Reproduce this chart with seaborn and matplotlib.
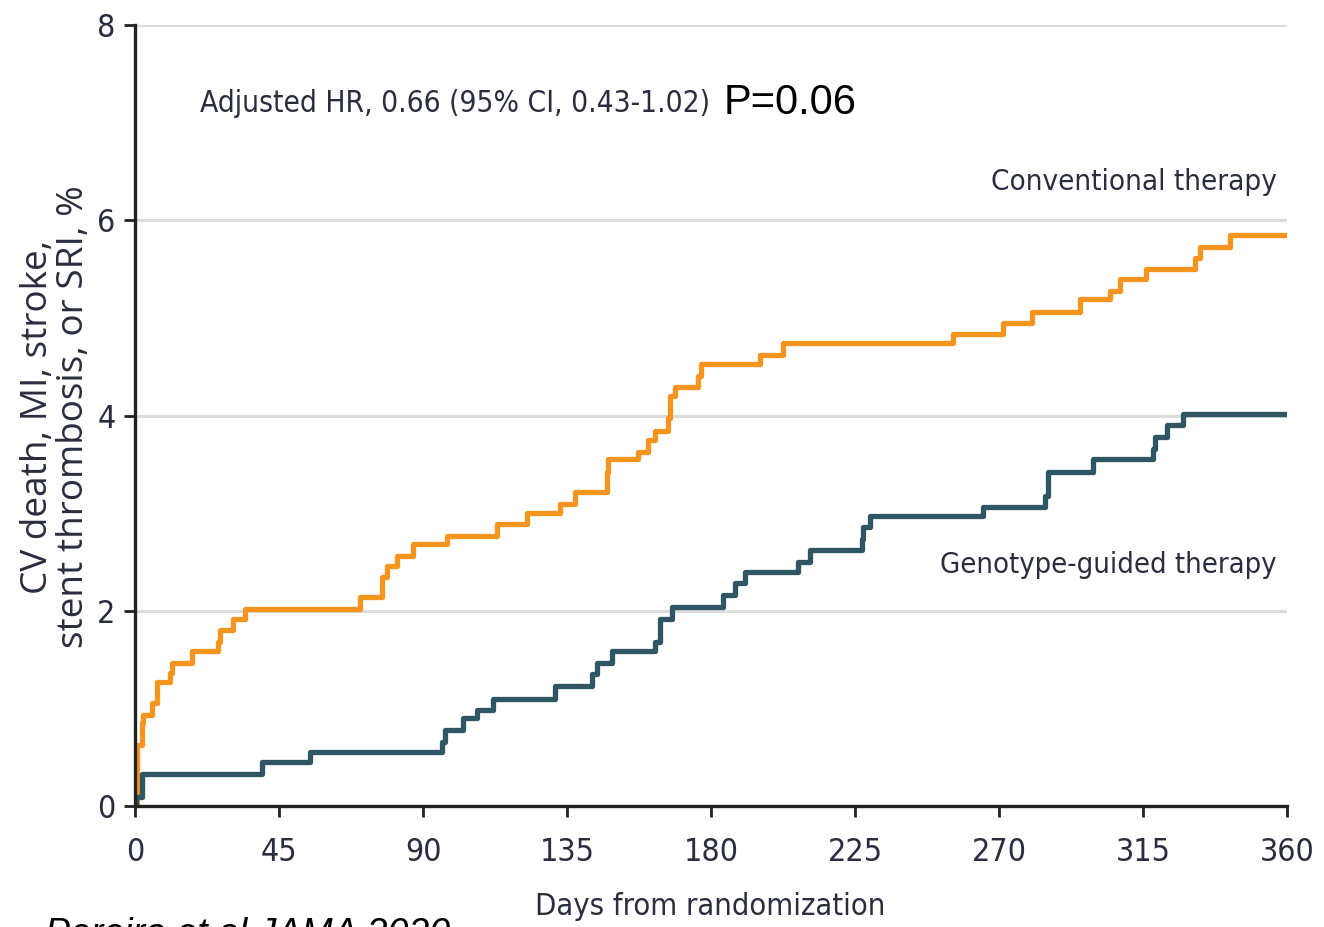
import matplotlib
matplotlib.use("Agg")
import matplotlib.pyplot as plt
import matplotlib.font_manager as fm
import pandas as pd
import seaborn as sns

# step curves: day of each event and cumulative % after it
conv_days = [0, 0.5, 2.1, 2.6, 5.2, 6.8, 10.9, 11.5, 17.7, 26, 26.6, 30.7, 34.4, 70.3, 77.1, 78.8,
             81.8, 87, 97.4, 113, 122.6, 132.8, 137.5, 147.4, 147.9, 157.3, 160.3, 162.5, 166.6,
             167.2, 168.8, 176, 177, 195.3, 202.6, 255.7, 271.3, 280.2, 295.3, 304.7, 307.8, 316.1,
             331.2, 332.8, 342.2, 360]
conv_vals = [0, 0.63, 0.85, 0.93, 1.06, 1.27, 1.36, 1.47, 1.59, 1.68, 1.80, 1.92, 2.02, 2.14, 2.35, 2.46,
             2.56, 2.68, 2.77, 2.89, 3.00, 3.09, 3.22, 3.42, 3.55, 3.63, 3.75, 3.84, 3.97,
             4.20, 4.29, 4.41, 4.53, 4.62, 4.74, 4.84, 4.95, 5.06, 5.19, 5.28, 5.40, 5.50,
             5.61, 5.73, 5.85, 5.85]

geno_days = [0, 0.3, 2.1, 39.6, 54.7, 95.8, 96.9, 102.6, 106.8, 112, 131.3, 142.7, 144.3, 149, 162.5,
             164, 167.7, 183.8, 187.5, 190.6, 207.3, 210.9, 227.1, 227.6, 229.7, 265.1, 284.4, 285.4,
             299.5, 318.2, 318.8, 322.6, 327.4, 360]
geno_vals = [0, 0.09, 0.33, 0.45, 0.55, 0.66, 0.78, 0.90, 0.98, 1.10, 1.23, 1.35, 1.47, 1.59, 1.68,
             1.92, 2.04, 2.16, 2.28, 2.40, 2.50, 2.62, 2.74, 2.86, 2.97, 3.06, 3.18, 3.42,
             3.55, 3.66, 3.78, 3.90, 4.02, 4.02]

x_ticks = [0, 45, 90, 135, 180, 225, 270, 315, 360]
y_ticks = [0, 2, 4, 6, 8]

orange = "#F7941D"
teal = "#2F5663"
txt = "#2a2d3e"

# look for a condensed sans face, the original uses one
cond_file = None
prefs = ["liberationsansnarrow-regular", "notosans-condensed.", "notosans-semicondensed.",
         "dejavusanscondensed.", "robotocondensed-regular", "opensans_condensed-regular",
         "opensans-condensed"]
files = [f.fname for f in fm.fontManager.ttflist]
for p in prefs:
    hit = [f for f in files if p in f.lower().replace(" ", "")]
    if hit:
        cond_file = hit[0]
        break
if cond_file:
    cond = fm.FontProperties(fname=cond_file)
else:
    cond = fm.FontProperties(family="Liberation Sans")

sns.set_style("white")
plt.rcParams["font.family"] = ["Liberation Sans", "DejaVu Sans"]

conv = pd.DataFrame({"day": conv_days, "pct": conv_vals})
geno = pd.DataFrame({"day": geno_days, "pct": geno_vals})

fig = plt.figure(figsize=(13.24, 9.27), dpi=100)
ax = fig.add_axes([0.102, 0.1305, 0.870, 0.8425])

ax.set_axisbelow(True)
ax.yaxis.grid(True, color="#dcdcdc", linewidth=2.2)
ax.xaxis.grid(False)

sns.lineplot(data=conv, x="day", y="pct", ax=ax, color=orange, linewidth=3.8,
             drawstyle="steps-post", estimator=None, sort=False)
sns.lineplot(data=geno, x="day", y="pct", ax=ax, color=teal, linewidth=3.8,
             drawstyle="steps-post", estimator=None, sort=False)

ax.set_xlim(0, 360)
ax.set_ylim(0, 8)
ax.set_xticks(x_ticks)
ax.set_yticks(y_ticks)
ax.set_xticklabels([str(t) for t in x_ticks], color=txt)
ax.set_yticklabels([str(t) for t in y_ticks], color=txt)
for lbl in ax.get_xticklabels() + ax.get_yticklabels():
    lbl.set_fontproperties(cond)
    lbl.set_fontsize(23)
ax.tick_params(axis="both", direction="out", length=8, width=2, color="#222222")
ax.tick_params(axis="x", bottom=True, pad=14)
ax.tick_params(axis="y", left=True, pad=6)

sns.despine(ax=ax)
for s in ["left", "bottom"]:
    ax.spines[s].set_linewidth(2.4)
    ax.spines[s].set_color("#222222")

xl = ax.set_xlabel("Days from randomization", color=txt)
xl.set_fontproperties(cond)
xl.set_fontsize(27)
xl.set_va("center")
yl = ax.set_ylabel("CV death, MI, stroke,\nstent thrombosis, or SRI, %", family=["Open Sans", "DejaVu Sans"],
                   fontsize=26, color=txt, linespacing=1.0)
yl.set_va("center")
ax.yaxis.set_label_coords(-0.069, 0.498)
ax.xaxis.set_label_coords(0.499, -0.129)

t_conv = fig.text(1277 / 1324, 1 - 182 / 927, "Conventional therapy", fontproperties=cond,
                  fontsize=27, color=txt, ha="right", va="center")
t_geno = fig.text(1277 / 1324, 1 - 565 / 927, "Genotype-guided therapy", fontproperties=cond,
                  fontsize=27, color=txt, ha="right", va="center")
t_hr = fig.text(200 / 1324, 1 - 103 / 927, "Adjusted HR, 0.66 (95% CI, 0.43-1.02)", fontproperties=cond,
                fontsize=28, color=txt, ha="left", va="center")
fig.text(724 / 1324, 1 - 103 / 927, "P=0.06", fontsize=30, color="black", ha="left", va="center")

fig.text(45 / 1324, 1 - 945 / 927, "Pereira et al JAMA 2020", fontsize=27, style="italic",
         color="black", ha="left", va="baseline")

# squeeze the condensed labels close to the widths they take in the original
fig.canvas.draw()
r = fig.canvas.get_renderer()
for t, w in [(t_hr, 512), (t_conv, 285), (t_geno, 335), (xl, 350)]:
    cur = t.get_window_extent(renderer=r).width
    if cur > w:
        t.set_fontsize(t.get_fontsize() * w / cur)
cur = yl.get_window_extent(renderer=r).height
yl.set_fontsize(yl.get_fontsize() * 465 / cur)

fig.savefig("out.png", dpi=100)
